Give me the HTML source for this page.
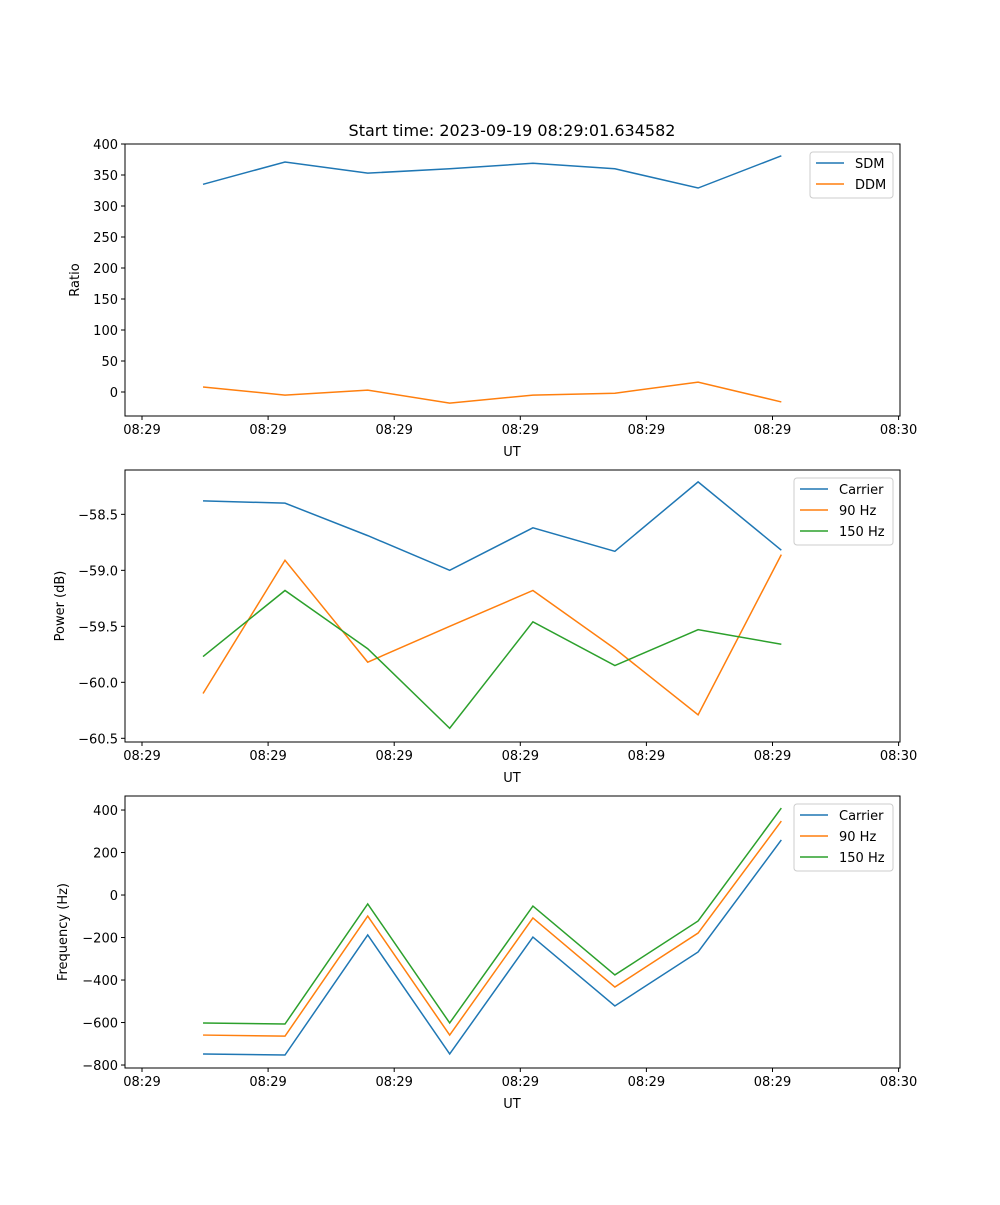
<!DOCTYPE html>
<html><head><meta charset="utf-8"><style>
body{margin:0;background:#fff}
svg text{font-family:"DejaVu Sans","Liberation Sans",sans-serif;fill:#000}
</style></head><body>
<svg id="fig" width="1000" height="1200" xmlns="http://www.w3.org/2000/svg">
<rect width="1000" height="1200" fill="#fff"/>
<text x="512" y="136" font-size="16" text-anchor="middle">Start time: 2023-09-19 08:29:01.634582</text>
</svg>
<script>
const times=[0.484,1.134,1.79,2.44,3.10,3.75,4.41,5.07];
const xTicks=[0,1,2,3,4,5,6];
const xTickLabels=["08:29","08:29","08:29","08:29","08:29","08:29","08:30"];
const sdm=[335,371,353,360,369,360,329,381];
const ddm=[8,-5,3,-18,-5,-2,16,-16];
const pCarrier=[-58.38,-58.40,-58.69,-59.0,-58.62,-58.83,-58.21,-58.82];
const p90=[-60.10,-58.91,-59.82,-59.50,-59.18,-59.70,-60.29,-58.86];
const p150=[-59.77,-59.18,-59.70,-60.41,-59.46,-59.85,-59.53,-59.66];
const fCarrier=[-748,-753,-188,-748,-198,-522,-268,259];
const f90=[-659,-664,-99,-659,-108,-433,-179,348];
const f150=[-602,-607,-42,-602,-52,-376,-122,409];
const ticks1=[0,50,100,150,200,250,300,350,400];
const ticks2=[-58.5,-59.0,-59.5,-60.0,-60.5];
const ticks3=[-800,-600,-400,-200,0,200,400];

const svg=document.getElementById('fig');
const NS='http://www.w3.org/2000/svg';
function mk(tag,attrs,parent){const e=document.createElementNS(NS,tag);for(const k in attrs)e.setAttribute(k,attrs[k]);(parent||svg).appendChild(e);return e;}
const L=125,R=900;
function xs(t){return 142+t*126.1;}
const C=['#1f77b4','#ff7f0e','#2ca02c'];

function panel(name,top,bottom,ymin,ymax,yt,ytFmt,ylabel,ylabelX,series,names,legX,legW){
  const g=mk('g',{});
  
  
  const ys=v=>bottom-(v-ymin)/(ymax-ymin)*(bottom-top);
  series.forEach((s,i)=>{
    const pl=mk('polyline',{points:s.map((v,j)=>xs(times[j])+','+ys(v)).join(' '),fill:'none',stroke:C[i],'stroke-width':1.5},g);
    
    
  });
  const fr=mk('rect',{x:L,y:top,width:R-L,height:bottom-top,fill:'none',stroke:'#000','stroke-width':1},g);
  
  
  xTicks.forEach((t,i)=>{
    const x=xs(t);
    mk('line',{x1:x,x2:x,y1:bottom,y2:bottom+4,stroke:'#000'},g);
    const tx=mk('text',{x:x,y:bottom+18,'font-size':13,'text-anchor':'middle'},g);
    tx.textContent=xTickLabels[i];
    
    
  });
  const xl=mk('text',{x:512,y:bottom+40,'font-size':13,'text-anchor':'middle'},g);
  xl.textContent='UT';
  
  
  yt.forEach(v=>{
    const y=ys(v);
    mk('line',{x1:L-4,x2:L,y1:y,y2:y,stroke:'#000'},g);
    const tx=mk('text',{x:L-7,y:y+5,'font-size':13,'text-anchor':'end'},g);
    tx.textContent=ytFmt(v);
    
    
  });
  const yl=mk('text',{x:ylabelX,y:(top+bottom)/2,'font-size':13,'text-anchor':'middle',transform:'rotate(-90 '+ylabelX+' '+(top+bottom)/2+')'},g);
  yl.textContent=ylabel;
  
  
  const lg=mk('g',{},g);
  
  
  const h=names.length*21+4;
  mk('rect',{x:legX,y:top+8,width:legW,height:h,rx:3,fill:'#fff','fill-opacity':0.8,stroke:'#ccc'},lg);
  names.forEach((n,i)=>{
    const y=top+19+i*21;
    mk('line',{x1:legX+6,x2:legX+34,y1:y,y2:y,stroke:C[i],'stroke-width':1.5},lg);
    const t=mk('text',{x:legX+45,y:y+5,'font-size':13},lg);
    t.textContent=n;
    
    
  });
}
panel('ratio',144,416,-38.7,400,ticks1,v=>String(v),'Ratio',79,[sdm,ddm],['SDM','DDM'],810,83);
panel('power',470,742,-60.533,-58.104,ticks2,v=>'\u2212'+Math.abs(v).toFixed(1),'Power (dB)',64,[pCarrier,p90,p150],['Carrier','90 Hz','150 Hz'],794,99);
panel('frequency',796,1068,-814,466,ticks3,v=>v<0?'\u2212'+Math.abs(v):String(v),'Frequency (Hz)',67,[fCarrier,f90,f150],['Carrier','90 Hz','150 Hz'],794,99);
</script>
</body></html>
